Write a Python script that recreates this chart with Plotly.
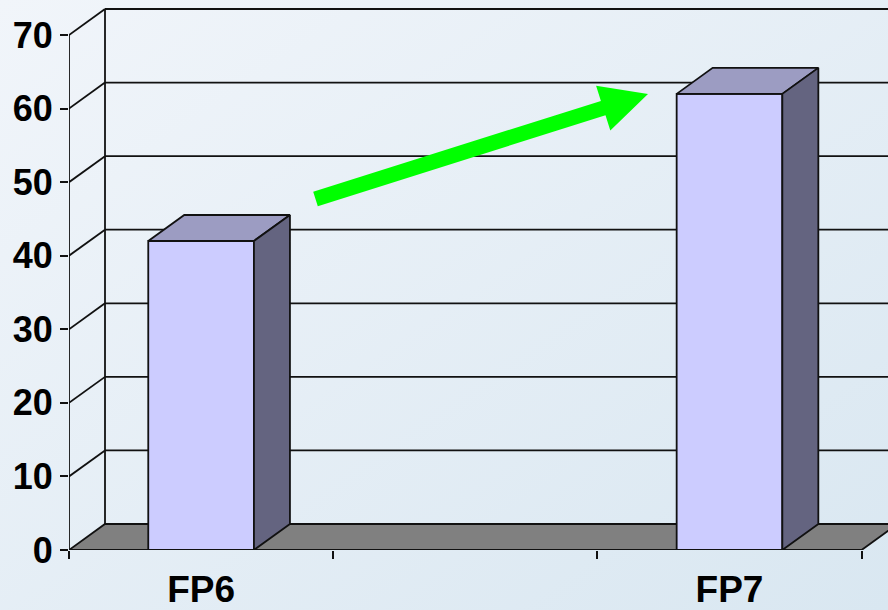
import base64
import plotly.graph_objects as go

# ---------------- data ----------------
categories = ["FP6", "", "FP7"]
values = [42, None, 62]
y_ticks = [0, 10, 20, 30, 40, 50, 60, 70]

# ---------------- geometry / style ----------------
W, H = 888, 610
L, B = 69, 60
plot_w = W - L
plot_h = H - B
px_per_cat = 264.2
px_per_unit = 7.357
depth_px = (36, 26)

x_min = -0.5
x_max = x_min + plot_w / px_per_cat
y_max = plot_h / px_per_unit
DX = depth_px[0] / px_per_cat
DY = depth_px[1] / px_per_unit
bar_w = 0.4
n = len(categories)
xpos = list(range(n))
y_top = max(y_ticks)

FRONT = "#ccccff"
TOP = "#9c9cc2"
SIDE = "#646480"
FLOOR = "#808080"
LINE = "#111111"
XFONT = dict(family="Liberation Sans, Arial, sans-serif", size=37, color="black", weight="bold")
YFONT = dict(family="Liberation Sans, Arial, sans-serif", size=36, color="black", weight="bold")

fig = go.Figure()

# bar front faces
bx = [xpos[i] for i, v in enumerate(values) if v is not None]
by = [v for v in values if v is not None]
fig.add_trace(go.Bar(x=bx, y=by, width=bar_w, base=0,
                     marker=dict(color=FRONT, line=dict(color=LINE, width=1.8)),
                     hoverinfo="skip"))

# bar top and side faces (3D effect)
for x, v in zip(bx, by):
    x0, x1 = x - bar_w / 2, x + bar_w / 2
    fig.add_trace(go.Scatter(x=[x0, x1, x1 + DX, x0 + DX, x0],
                             y=[v, v, v + DY, v + DY, v],
                             mode="lines", fill="toself", fillcolor=TOP,
                             line=dict(color=LINE, width=1.8), hoverinfo="skip"))
    fig.add_trace(go.Scatter(x=[x1, x1 + DX, x1 + DX, x1, x1],
                             y=[0, DY, v + DY, v, 0],
                             mode="lines", fill="toself", fillcolor=SIDE,
                             line=dict(color=LINE, width=1.8), hoverinfo="skip"))

shapes = []
ln = dict(color=LINE, width=1.8)
# back wall gridlines and side-wall diagonals
for v in y_ticks[1:]:
    shapes.append(dict(type="line", xref="x", yref="y", x0=x_min + DX, y0=v + DY,
                       x1=x_min + n + DX + 1, y1=v + DY, line=ln, layer="below"))
    shapes.append(dict(type="line", xref="x", yref="y", x0=x_min, y0=v,
                       x1=x_min + DX, y1=v + DY, line=ln, layer="below"))
# wall verticals
shapes.append(dict(type="line", xref="x", yref="y", x0=x_min, y0=0, x1=x_min, y1=y_top,
                   line=ln, layer="below"))
shapes.append(dict(type="line", xref="x", yref="y", x0=x_min + DX, y0=DY, x1=x_min + DX,
                   y1=y_top + DY, line=ln, layer="below"))
# floor
shapes.append(dict(type="path", xref="x", yref="y",
                   path=f"M {x_min},0 L {x_min + n},0 L {x_min + n + DX},{DY} L {x_min + DX},{DY} Z",
                   fillcolor=FLOOR, line=ln, layer="below"))

# green trend arrow (decoration, defined in pixels -> paper)
arrow_px = [(313.2, 191.8), (600.9, 100.9), (596.1, 85.7), (648, 94),
            (610.3, 130.5), (605.5, 115.3), (317.8, 206.2)]
pts = [((px - L) / plot_w, (plot_h - py) / plot_h) for px, py in arrow_px]
path = "M " + " L ".join(f"{a:.5f},{b:.5f}" for a, b in pts) + " Z"
shapes.append(dict(type="path", xref="paper", yref="paper", path=path,
                   fillcolor="#00ff00", line=dict(width=0), layer="above"))

# background gradient
svg = ('<svg xmlns="http://www.w3.org/2000/svg" width="888" height="610">'
       '<defs><linearGradient id="g" x1="0" y1="0" x2="1" y2="1">'
       '<stop offset="0" stop-color="#f1f5fa"/><stop offset="1" stop-color="#d9e7f1"/>'
       '</linearGradient></defs><rect width="888" height="610" fill="url(#g)"/></svg>')
uri = "data:image/svg+xml;base64," + base64.b64encode(svg.encode()).decode()

fig.update_layout(
    width=W, height=H,
    margin=dict(l=L, r=0, t=0, b=B, autoexpand=False),
    paper_bgcolor="#e6eef6", plot_bgcolor="rgba(0,0,0,0)",
    showlegend=False, hovermode=False,
    shapes=shapes,
    images=[dict(source=uri, xref="paper", yref="paper", x=-L / plot_w, y=1,
                 sizex=W / plot_w, sizey=H / plot_h, xanchor="left", yanchor="top",
                 sizing="stretch", layer="below")],
    xaxis=dict(range=[x_min, x_max], tickmode="array", tickvals=xpos, ticktext=categories,
               ticks="", showgrid=False, zeroline=False, showline=False,
               tickfont=XFONT, ticklabelstandoff=14, automargin=False,
               minor=dict(tickmode="array", tickvals=[x_min + k for k in range(n + 1)],
                          ticks="outside", ticklen=8, tickcolor=LINE, tickwidth=1.8,
                          showgrid=False)),
    yaxis=dict(range=[0, y_max], tickmode="array", tickvals=y_ticks,
               ticks="outside", ticklen=8, tickcolor=LINE, tickwidth=1.8,
               showgrid=False, zeroline=False, showline=False, automargin=False,
               tickfont=YFONT, ticklabelstandoff=0),
)

fig.write_html("out.html", config={"displayModeBar": False},
               post_script="document.body.style.margin='0px';document.body.style.overflow='hidden';")
